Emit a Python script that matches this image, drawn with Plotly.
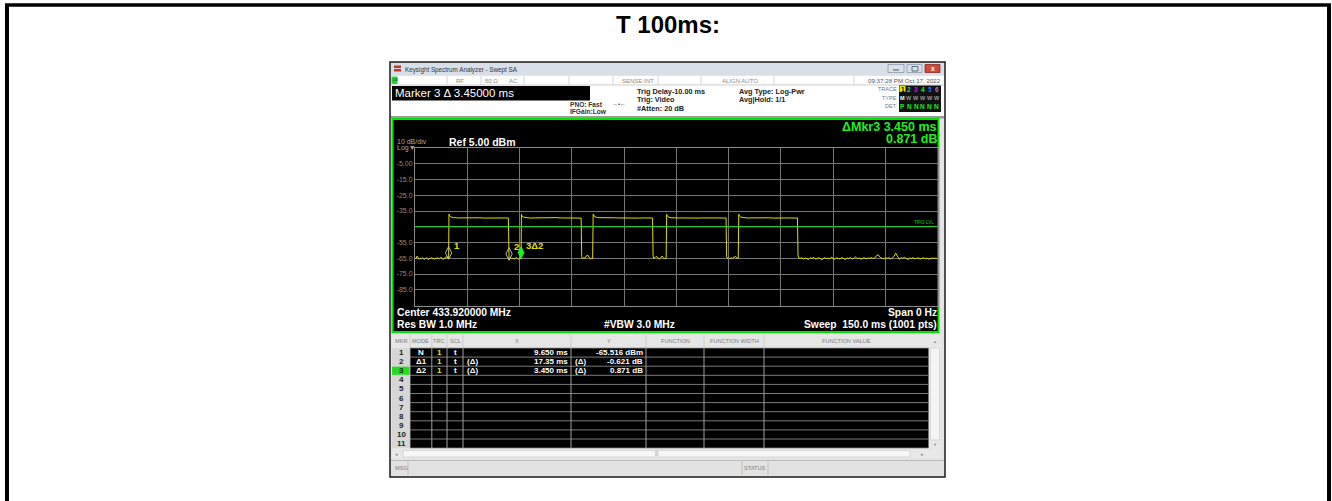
import plotly.graph_objects as go

W, H = 1332, 501

# ---------------- data ----------------
page_title = "T 100ms:"
sweep_ms = 150.0
ref_dbm = 5.0
bottom_dbm = -95.0
x_div_ms = 15.0
y_div_db = 10.0
trig_level_dbm = -45.0

# trace, segment by segment (time in ms, level in dBm)
seg0_t = [0.0, 0.3, 0.6, 0.9, 1.2, 1.5, 1.8, 2.1, 2.4, 2.7, 3.0, 3.3, 3.6, 3.9, 4.2, 4.5, 4.8,
          5.1, 5.4, 5.7, 6.0, 6.3, 6.6, 6.9, 7.2, 7.5, 7.8, 8.1, 8.4, 8.7, 9.0, 9.3, 9.5, 9.65]
seg0_v = [-64.8, -65.3, -63.6, -65.1, -65.6, -64.9, -65.2, -64.6, -65.4, -65.8, -65.0, -64.7,
          -65.3, -65.9, -64.9, -65.2, -64.5, -65.4, -65.1, -65.7, -64.8, -65.2, -64.6, -65.5,
          -65.0, -64.3, -65.3, -65.8, -64.9, -65.1, -63.9, -64.7, -65.6, -65.5]
pulse1_t = [9.75, 9.9, 10.3, 11.0, 12.5, 14.0, 15.5, 17.0, 18.5, 20.0, 21.5, 23.0, 24.5, 26.0, 26.8]
pulse1_v = [-37.0, -37.9, -38.8, -39.2, -39.4, -39.3, -39.5, -39.4, -39.3, -39.5, -39.4, -39.2, -39.5, -39.4, -39.5]
gap1_t = [26.95, 27.0, 27.3, 27.6, 27.9, 28.2, 28.5, 28.8, 29.1, 29.4, 29.7, 30.0, 30.3, 30.45]
gap1_v = [-62.5, -66.1, -65.0, -64.6, -65.3, -64.9, -65.6, -65.1, -64.4, -65.2, -65.7, -64.8, -65.0, -65.3]
pulse2_t = [30.55, 30.7, 31.1, 31.8, 33.0, 34.5, 36.0, 37.5, 39.0, 40.5, 42.0, 43.5, 45.0, 46.5, 47.7]
pulse2_v = [-37.1, -38.0, -38.9, -39.3, -39.5, -39.4, -39.3, -39.5, -39.4, -39.2, -39.4, -39.5, -39.3, -39.4, -39.5]
gap2_t = [47.85, 48.0, 48.4, 48.8, 49.2, 49.6, 50.0, 50.4, 50.8, 51.0]
gap2_v = [-63.8, -65.2, -64.7, -65.0, -63.4, -63.0, -64.6, -65.3, -64.9, -65.1]
pulse3_t = [51.15, 51.3, 51.7, 52.4, 54.0, 55.5, 57.0, 58.5, 60.0, 61.5, 63.0, 64.5, 66.0, 67.5, 68.2]
pulse3_v = [-37.0, -37.8, -38.8, -39.2, -39.4, -39.5, -39.3, -39.4, -39.5, -39.3, -39.4, -39.5, -39.4, -39.3, -39.5]
gap3_t = [68.35, 68.5, 68.9, 69.3, 69.7, 70.1, 70.5, 70.9, 71.3, 71.7, 72.1]
gap3_v = [-63.5, -65.1, -64.6, -63.7, -64.9, -65.4, -64.8, -63.6, -64.7, -65.2, -65.0]
pulse4_t = [72.25, 72.4, 72.8, 73.5, 75.0, 76.5, 78.0, 79.5, 81.0, 82.5, 84.0, 85.5, 87.0, 88.5, 89.3]
pulse4_v = [-37.1, -37.9, -38.9, -39.3, -39.4, -39.5, -39.3, -39.4, -39.5, -39.4, -39.3, -39.5, -39.4, -39.5, -39.4]
gap4_t = [89.45, 89.6, 90.0, 90.4, 90.8, 91.2, 91.6, 92.0, 92.4, 92.8]
gap4_v = [-63.9, -65.0, -64.5, -65.3, -64.8, -65.1, -64.4, -63.8, -64.9, -65.2]
pulse5_t = [92.95, 93.1, 93.5, 94.2, 95.5, 97.0, 98.5, 100.0, 101.5, 103.0, 104.5, 106.0, 107.5, 109.0, 109.8]
pulse5_v = [-37.0, -38.0, -38.8, -39.2, -39.4, -39.3, -39.5, -39.4, -39.3, -39.5, -39.4, -39.2, -39.4, -39.5, -39.4]
tail_t = [109.95, 110.2,
          110.5, 111.0, 111.5, 112.0, 112.5, 113.0, 113.5, 114.0, 114.5, 115.0,
          115.5, 116.0, 116.5, 117.0, 117.5, 118.0, 118.5, 119.0, 119.5, 120.0,
          120.5, 121.0, 121.5, 122.0, 122.5, 123.0, 123.5, 124.0, 124.5, 125.0,
          125.5, 126.0, 126.5, 127.0, 127.5, 128.0, 128.5, 129.0, 129.5, 130.0,
          130.5, 131.0, 131.5, 132.0, 132.5, 133.0, 133.5, 134.0, 134.5, 135.0,
          135.5, 136.0, 136.5, 137.0, 137.5, 138.0, 138.5, 139.0, 139.5, 140.0,
          140.5, 141.0, 141.5, 142.0, 142.5, 143.0, 143.5, 144.0, 144.5, 145.0,
          145.5, 146.0, 146.5, 147.0, 147.5, 148.0, 148.5, 149.0, 149.5, 150.0]
tail_v = [-63.0, -64.8,
          -65.2, -64.6, -65.5, -64.9, -65.3, -65.8, -64.7, -65.1, -64.4, -65.6,
          -65.0, -64.8, -65.4, -65.9, -64.6, -65.2, -64.9, -65.5, -64.3, -65.1,
          -65.7, -64.8, -65.0, -65.4, -64.5, -65.3, -65.8, -64.9, -65.1, -64.6,
          -65.5, -65.0, -64.2, -65.3, -64.8, -65.6, -65.1, -64.7, -65.4, -64.9,
          -65.0, -64.6, -65.2, -64.8, -63.3, -62.8, -64.5, -65.1, -65.3, -64.9,
          -65.0, -64.6, -65.4, -64.9, -63.9, -61.8, -64.2, -65.6, -64.7, -65.0,
          -64.4, -65.3, -65.8, -64.9, -65.1, -64.6, -65.4, -65.0, -64.8, -65.5,
          -65.1, -64.7, -65.3, -64.9, -65.6, -65.0, -64.8, -65.2, -64.9, -65.3]

trace_t_ms = seg0_t + pulse1_t + gap1_t + pulse2_t + gap2_t + pulse3_t + gap3_t + pulse4_t + gap4_t + pulse5_t + tail_t
trace_dbm = seg0_v + pulse1_v + gap1_v + pulse2_v + gap2_v + pulse3_v + gap3_v + pulse4_v + gap4_v + pulse5_v + tail_v

# markers
marker_labels = ["1", "2", "3Δ2"]
marker_t_ms = [9.65, 27.0, 30.45]
marker_dbm = [-65.516, -66.137, -65.266]

# y axis labels
y_tick_vals = [5, -5, -15, -25, -35, -45, -55, -65, -75, -85, -95]
y_tick_text = ["", "-5.00", "-15.0", "-25.0", "-35.0", "", "-55.0", "-65.0", "-75.0", "-85.0", ""]

# marker table
table_headers = ["MKR", "MODE", "TRC", "SCL", "X", "Y", "FUNCTION", "FUNCTION WIDTH", "FUNCTION VALUE"]
table_mkr = ["1", "2", "3", "4", "5", "6", "7", "8", "9", "10", "11"]
table_mode = ["N", "Δ1", "Δ2"]
table_trc = ["1", "1", "1"]
table_scl = ["t", "t", "t"]
table_x_prefix = ["", "(Δ)", "(Δ)"]
table_x = ["9.650 ms", "17.35 ms", "3.450 ms"]
table_y_prefix = ["", "(Δ)", "(Δ)"]
table_y = ["-65.516 dBm", "-0.621 dB", "0.871 dB"]

# header texts
window_title = "Keysight Spectrum Analyzer - Swept SA"
status_items = ["RF", "50 Ω", "AC", "SENSE:INT", "ALIGN AUTO"]
timestamp = "09:37:28 PM Oct 17, 2022"
marker_readout = "Marker 3 Δ 3.45000 ms"
trig_lines = ["Trig Delay-10.00 ms", "Trig: Video", "#Atten: 20 dB"]
avg_lines = ["Avg Type: Log-Pwr", "Avg|Hold: 1/1"]
pno_lines = ["PNO: Fast", "IFGain:Low"]
active_marker = ["ΔMkr3 3.450 ms", "0.871 dB"]
center_freq = "Center 433.920000 MHz"
res_bw = "Res BW 1.0 MHz"
vbw = "#VBW 3.0 MHz"
span = "Span 0 Hz"
sweep_txt = "Sweep  150.0 ms (1001 pts)"

# ---------------- helpers ----------------
FONT = "Liberation Sans"
shapes, annots = [], []


def px(x):
    return x / W


def py(y):
    return 1 - y / H


def rect(x0, y0, x1, y1, fill, line=None, lw=0, layer="below"):
    shapes.append(dict(type="rect", xref="paper", yref="paper",
                       x0=px(x0), x1=px(x1), y0=py(y1), y1=py(y0),
                       fillcolor=fill, line=dict(color=line or fill, width=lw), layer=layer))


def line(x0, y0, x1, y1, color, w=1, layer="below"):
    shapes.append(dict(type="line", xref="paper", yref="paper",
                       x0=px(x0), x1=px(x1), y0=py(y0), y1=py(y1),
                       line=dict(color=color, width=w), layer=layer))


def text(x, y, s, size, color, anchor="left", bold=False):
    annots.append(dict(x=px(x), y=py(y), xref="paper", yref="paper",
                       text=f"<b>{s}</b>" if bold else s, showarrow=False,
                       xanchor=anchor, yanchor="middle", borderpad=0,
                       font=dict(size=size, color=color, family=FONT)))


# ---------------- page frame & title ----------------
line(7, 5, 7, 505, "black", 4)
line(5, 5, 1331, 5, "black", 3.5)
line(1329, 5, 1329, 505, "black", 4)
text(667.5, 25, page_title, 24, "black", "center", True)

# ---------------- analyzer window ----------------
rect(390, 62, 945, 477, "#e4e4e4", "#1a1a1a", 1.5)
# title bar
rect(391, 63, 944, 75, "#d8dfe8")
rect(394, 65.5, 401, 71.5, "#c0392b")
line(394, 68.5, 401, 68.5, "#dddddd", 1)
text(404, 69.5, window_title, 6.3, "#333333")
rect(888, 64.5, 904, 72.5, "#d9e0e8", "#8a99aa", 0.8)
rect(907, 64.5, 922, 72.5, "#d9e0e8", "#8a99aa", 0.8)
rect(925, 64.5, 940, 72.5, "#cc4b3c", "#8a2a20", 0.8)
line(893, 70, 899, 70, "#445566", 1)
rect(912, 66.5, 918, 71, "rgba(0,0,0,0)", "#445566", 0.8)
text(932.5, 68.5, "x", 6.5, "white", "center", True)
# status row
rect(391, 76, 944, 85, "#ffffff")
line(391, 85, 944, 85, "#b8b8b8", 0.8)
rect(391.5, 76.5, 397.5, 84, "#2ecc40")
text(392, 80.3, "LXI", 3.5, "#003300")
for xs in [447, 481, 524, 569, 613, 658, 701, 774, 854]:
    line(xs, 76, xs, 85, "#c8c8c8", 0.8)
for s, xc in zip(status_items, [459.6, 491, 513, 638, 740]):
    text(xc, 80.5, s, 6, "#8a8a8a", "center")
text(942, 80.5, timestamp, 6.2, "#555555", "right")
# info area
rect(391, 85.5, 944, 116, "#ffffff")
rect(392, 86, 590, 100.5, "#000000")
text(394, 93.5, marker_readout, 11.5, "#ffffff")
for s, yy in zip(pno_lines, [104.5, 111.5]):
    text(569, yy, s, 6.6, "#333333", "left", True)
text(611, 104.5, "→•←", 6, "#333333")
for s, yy in zip(trig_lines, [91.5, 100, 108.5]):
    text(636, yy, s, 7.3, "#222222", "left", True)
for s, yy in zip(avg_lines, [91.5, 100]):
    text(738, yy, s, 7.3, "#222222", "left", True)
text(898, 88.8, "TRACE", 5.5, "#777777", "right")
text(898, 97.5, "TYPE", 5.5, "#777777", "right")
text(898, 106.5, "DET", 5.5, "#777777", "right")
rect(899, 85.5, 941, 112, "#111111")
trace_cols = ["#e8e800", "#00d8e8", "#e800e8", "#20e820", "#4060ff", "#a070ff"]
for i, c in enumerate(trace_cols):
    xc = 902.5 + i * 6.8
    if i == 0:
        rect(xc - 3, 86, xc + 3, 92, c)
        text(xc, 89, str(i + 1), 6.5, "#000000", "center", True)
    else:
        text(xc, 89, str(i + 1), 6.5, c, "center", True)
    text(xc, 97.5, "M" if i == 0 else "W", 5.5, "#ffffff" if i == 0 else "#9a9a9a", "center", True)
    text(xc, 106.5, "P" if i == 0 else "N", 6.5, "#20e820", "center", True)
rect(391, 116, 944, 118.5, "#9a9a9a")

# ---------------- measurement panel ----------------
rect(392.5, 119, 938.5, 332, "#000000", "#00e600", 2)
text(396, 141.8, "10 dB/div", 7, "#a8a8a8")
text(396, 148.5, "Log▼", 7, "#a8a8a8")
text(448, 141.8, f"Ref {ref_dbm:.2f} dBm", 10.5, "#ffffff", "left", True)
text(937.5, 127, active_marker[0], 12.5, "#22ee22", "right", True)
text(937.5, 139.5, active_marker[1], 12.5, "#22ee22", "right", True)
text(396, 312.5, center_freq, 10.3, "#ffffff", "left", True)
text(396, 324.5, res_bw, 10.3, "#ffffff", "left", True)
text(603, 324.5, vbw, 10.3, "#ffffff", "left", True)
text(937.5, 312.5, span, 10.3, "#ffffff", "right", True)
text(937.5, 324.5, sweep_txt, 10.3, "#ffffff", "right", True)
text(935, 222.5, "TRIG LVL", 4.5, "#22cc22", "right")

# ---------------- marker table ----------------
row_top, row_h, n_rows = 348.0, 9.1, 11
col_edges = [392, 410, 431.8, 447, 463, 571, 646, 704, 764, 928.5]
rect(392, 334.5, 941, 348, "#e6e6e6")
rect(392, 348, 410, row_top + n_rows * row_h, "#d6d6d6")
rect(410, 348, 928.5, row_top + n_rows * row_h, "#000000")
rect(929, 334.5, 941, 448.5, "#e8e8e8")
rect(930.5, 348, 939.5, 440, "#f4f4f4", "#c8c8c8", 0.6)
text(935, 341, "▲", 4, "#888888", "center")
text(935, 444.5, "▼", 4, "#888888", "center")
for xs in col_edges[1:-1]:
    line(xs, 334.5, xs, row_top + n_rows * row_h, "#c8c8c8", 0.8)
for k in range(n_rows + 1):
    yy = row_top + k * row_h
    line(410, yy, 928.5, yy, "#9a9a9a", 0.8)
for i, h in enumerate(table_headers):
    xc = (col_edges[i] + col_edges[i + 1]) / 2
    text(xc, 341.3, h, 5.6, "#7a7a7a", "center")
rect(392, 348 + 2 * row_h + 0.5, 409.5, 348 + 3 * row_h - 0.5, "#22dd22")
for k, m in enumerate(table_mkr):
    text(401, row_top + (k + 0.5) * row_h, m, 8, "#222222", "center", True)
for k in range(len(table_mode)):
    yy = row_top + (k + 0.5) * row_h
    text(421, yy, table_mode[k], 8, "#ffffff", "center", True)
    text(439.4, yy, table_trc[k], 8, "#e8e800", "center", True)
    text(455, yy, table_scl[k], 8, "#ffffff", "center", True)
    if table_x_prefix[k]:
        text(466, yy, table_x_prefix[k], 8, "#ffffff", "left", True)
    text(569, yy, table_x[k], 8, "#ffffff", "right", True)
    if table_y_prefix[k]:
        text(574, yy, table_y_prefix[k], 8, "#ffffff", "left", True)
    text(644, yy, table_y[k], 8, "#ffffff", "right", True)
# horizontal scrollbar
rect(392, 449, 941, 458.5, "#e8e8e8")
rect(403, 450.5, 910, 457, "#f6f6f6", "#c4c4c4", 0.6)
text(396.5, 453.5, "◂", 5, "#888888", "center")
text(923, 453.5, "▸", 5, "#888888", "center")
text(656.5, 453.5, "|||", 4.5, "#888888", "center")
# status bar
rect(391, 460.5, 944, 475, "#e2e2e2")
line(391, 460.5, 944, 460.5, "#b0b0b0", 0.8)
line(408, 461, 408, 475, "#b8b8b8", 0.8)
line(742, 461, 742, 475, "#b8b8b8", 0.8)
line(768, 461, 768, 475, "#b8b8b8", 0.8)
text(394, 468, "MSG", 5.6, "#7a7a7a")
text(755, 468, "STATUS", 5.6, "#7a7a7a", "center")

# ---------------- traces ----------------
fig = go.Figure()
fig.add_trace(go.Scatter(x=trace_t_ms, y=trace_dbm, mode="lines",
                         line=dict(color="#dede00", width=1), hoverinfo="skip", showlegend=False))
# trig level
shapes.append(dict(type="line", xref="x", yref="y", x0=0, x1=sweep_ms,
                   y0=trig_level_dbm, y1=trig_level_dbm, line=dict(color="#10dd10", width=1.2),
                   layer="above"))
MARKER_LIFT_DB = 3.9
fig.add_trace(go.Scatter(x=marker_t_ms[:2], y=[v + MARKER_LIFT_DB for v in marker_dbm[:2]],
                         mode="markers", showlegend=False, hoverinfo="skip",
                         marker=dict(symbol="diamond-tall-open", size=9, color="#b8b8b8",
                                     line=dict(width=1, color="#b8b8b8"))))
fig.add_trace(go.Scatter(x=marker_t_ms[2:], y=[v + MARKER_LIFT_DB for v in marker_dbm[2:]],
                         mode="markers", showlegend=False, hoverinfo="skip",
                         marker=dict(symbol="diamond-tall", size=9, color="#22ee22",
                                     line=dict(width=0.5, color="#22ee22"))))
for lab, t, v in zip(marker_labels, marker_t_ms, marker_dbm):
    annots.append(dict(x=t, y=v, xref="x", yref="y", text=f"<b>{lab}</b>", showarrow=False,
                       xanchor="left", yanchor="middle", xshift=4, yshift=13.5, borderpad=0,
                       font=dict(size=9.5, color="#e0e000", family=FONT)))

fig.update_layout(
    width=W, height=H, autosize=False,
    margin=dict(l=0, r=0, t=0, b=0, pad=0),
    paper_bgcolor="white", plot_bgcolor="black",
    shapes=shapes, annotations=annots, showlegend=False,
    xaxis=dict(domain=[px(415), px(937.5)], range=[0, sweep_ms], dtick=x_div_ms, tick0=0,
               showgrid=True, gridcolor="#767676", gridwidth=1, zeroline=False,
               showticklabels=False, ticks="", showline=True, mirror=True,
               linecolor="#8c8c8c", linewidth=1, fixedrange=True),
    yaxis=dict(domain=[py(305.5), py(148)], range=[bottom_dbm, ref_dbm],
               tickvals=y_tick_vals, ticktext=y_tick_text,
               showgrid=True, gridcolor="#767676", gridwidth=1, zeroline=False,
               ticks="", showline=True, mirror=True, linecolor="#8c8c8c", linewidth=1,
               tickfont=dict(size=7, color="#8c8c8c", family=FONT), fixedrange=True),
)

fig.write_html("out.html", config={"displayModeBar": False},
               post_script="document.body.style.margin='0';document.body.style.padding='0';"
                           "document.documentElement.style.overflow='hidden';")
